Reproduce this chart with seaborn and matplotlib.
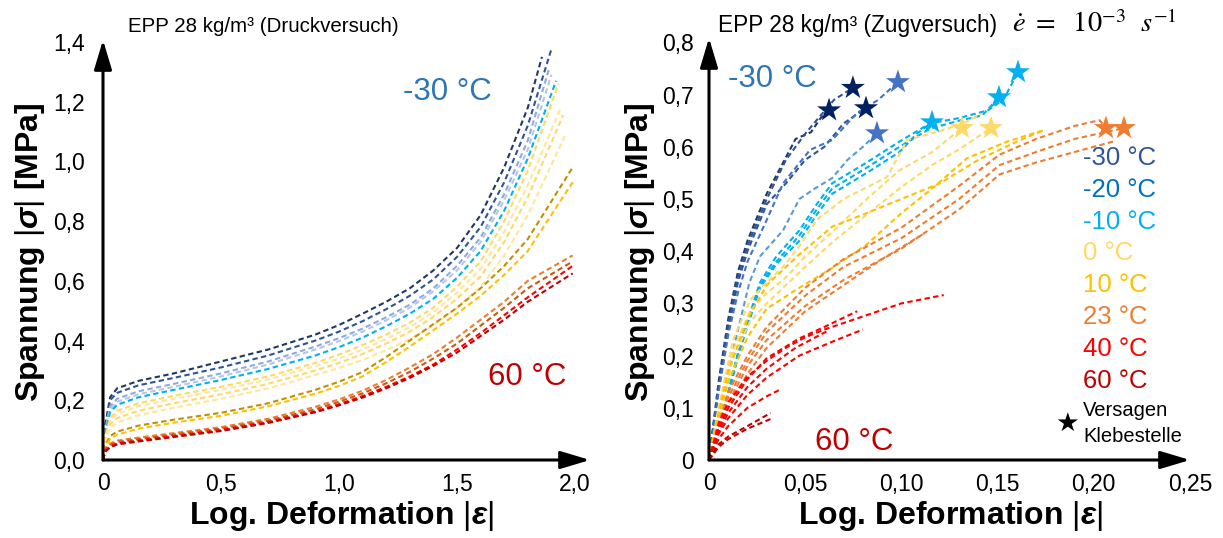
import matplotlib
matplotlib.use("Agg")
import matplotlib.pyplot as plt
import seaborn as sns

# ---------------- Druckversuch (left) ----------------
druck_eps = [0, 0.01, 0.03, 0.06, 0.15, 0.3, 0.5, 0.7, 0.9, 1.0, 1.1, 1.2, 1.3, 1.4, 1.5, 1.6, 1.7, 1.8]
druck_colors = ["#203864", "#2f5597", "#8faadc", "#b4c7e7", "#00b0f0",
                "#ffd966", "#ffe699", "#ffd966", "#ffe699",
                "#bf9000", "#ffc000", "#ed7d31", "#c55a11", "#ff0000", "#c00000"]
druck_sig = [
    [0, 0.12, 0.21, 0.24, 0.265, 0.29, 0.33, 0.37, 0.42, 0.452, 0.49, 0.53, 0.575, 0.635, 0.71, 0.82, 0.98, 1.18],
    [0, 0.11, 0.20, 0.225, 0.25, 0.275, 0.31, 0.35, 0.40, 0.43, 0.465, 0.505, 0.55, 0.605, 0.68, 0.78, 0.93, 1.12],
    [0, 0.10, 0.18, 0.205, 0.23, 0.255, 0.29, 0.33, 0.38, 0.408, 0.44, 0.478, 0.52, 0.575, 0.65, 0.745, 0.89, 1.07],
    [0, 0.095, 0.17, 0.195, 0.22, 0.245, 0.28, 0.32, 0.37, 0.398, 0.43, 0.468, 0.51, 0.565, 0.635, 0.73, 0.87, 1.04],
    [0, 0.09, 0.16, 0.185, 0.21, 0.235, 0.268, 0.305, 0.35, 0.378, 0.41, 0.448, 0.49, 0.54, 0.61, 0.70, 0.835, 1.01],
    [0, 0.08, 0.14, 0.165, 0.19, 0.215, 0.245, 0.28, 0.325, 0.353, 0.385, 0.42, 0.46, 0.51, 0.58, 0.665, 0.80, 0.97],
    [0, 0.075, 0.13, 0.155, 0.18, 0.205, 0.235, 0.27, 0.315, 0.34, 0.37, 0.405, 0.445, 0.495, 0.56, 0.64, 0.765, 0.92],
    [0, 0.07, 0.12, 0.14, 0.165, 0.19, 0.22, 0.255, 0.30, 0.325, 0.355, 0.39, 0.43, 0.48, 0.54, 0.615, 0.73, 0.88],
    [0, 0.065, 0.11, 0.125, 0.15, 0.175, 0.205, 0.24, 0.285, 0.308, 0.335, 0.368, 0.405, 0.45, 0.51, 0.58, 0.685, 0.82],
    [0, 0.05, 0.08, 0.095, 0.115, 0.135, 0.158, 0.19, 0.235, 0.262, 0.295, 0.345, 0.40, 0.455, 0.51, 0.575, 0.65, 0.74],
    [0, 0.045, 0.07, 0.085, 0.105, 0.125, 0.148, 0.18, 0.222, 0.248, 0.28, 0.328, 0.38, 0.435, 0.49, 0.55, 0.62, 0.70],
    [0, 0.04, 0.055, 0.065, 0.075, 0.09, 0.11, 0.138, 0.178, 0.203, 0.232, 0.268, 0.31, 0.355, 0.41, 0.47, 0.53, 0.60],
    [0, 0.035, 0.05, 0.06, 0.07, 0.085, 0.105, 0.132, 0.17, 0.195, 0.223, 0.257, 0.295, 0.34, 0.39, 0.45, 0.51, 0.575],
    [0, 0.03, 0.045, 0.055, 0.065, 0.08, 0.10, 0.127, 0.163, 0.187, 0.214, 0.245, 0.28, 0.32, 0.37, 0.425, 0.485, 0.545],
    [0, 0.028, 0.042, 0.052, 0.062, 0.077, 0.097, 0.124, 0.16, 0.183, 0.209, 0.24, 0.275, 0.315, 0.36, 0.415, 0.47, 0.53],
]
druck_end_eps = [1.86, 1.90, 1.89, 1.90, 1.92, 1.93, 1.94, 1.95, 1.96, 1.99, 1.99, 1.99, 1.99, 1.99, 1.99]
druck_end_sig = [1.35, 1.376, 1.31, 1.29, 1.27, 1.26, 1.18, 1.155, 1.09, 0.98, 0.93, 0.685, 0.665, 0.65, 0.625]

# ---------------- Zugversuch (right) ----------------
zug_colors = ["#203864", "#2f5597", "#2f5597",
              "#5b9bd5", "#4472c4",
              "#00b0f0", "#00b0f0", "#00b0f0",
              "#ffd966", "#ffd966", "#ffd966",
              "#ffc000", "#ffc000",
              "#ed7d31", "#ed7d31", "#ed7d31", "#ed7d31",
              "#ff0000", "#ff0000", "#ff0000", "#ff0000", "#ff0000",
              "#c00000", "#c00000"]
zug_eps = [
    [0, 0.005, 0.01, 0.015, 0.02, 0.03, 0.04, 0.045, 0.053, 0.058, 0.0624],
    [0, 0.005, 0.01, 0.015, 0.02, 0.03, 0.04, 0.05, 0.058, 0.065, 0.0748],
    [0, 0.005, 0.01, 0.015, 0.02, 0.03, 0.04, 0.05, 0.06, 0.07, 0.0816],
    [0, 0.005, 0.0125, 0.021, 0.0265, 0.0385, 0.047, 0.055, 0.064, 0.072, 0.08, 0.0873],
    [0, 0.005, 0.01, 0.015, 0.02, 0.03, 0.0385, 0.0525, 0.064, 0.077, 0.088, 0.0982],
    [0, 0.005, 0.0093, 0.016, 0.0265, 0.035, 0.047, 0.056, 0.064, 0.082, 0.099, 0.108, 0.1159],
    [0, 0.005, 0.0093, 0.016, 0.0265, 0.035, 0.047, 0.056, 0.064, 0.082, 0.099, 0.115, 0.13, 0.142, 0.1507],
    [0, 0.005, 0.0093, 0.016, 0.0265, 0.035, 0.047, 0.056, 0.064, 0.082, 0.099, 0.115, 0.13, 0.145, 0.153, 0.1606],
    [0, 0.005, 0.0125, 0.0213, 0.03, 0.0385, 0.047, 0.056, 0.07, 0.0925, 0.103, 0.12, 0.132, 0.142],
    [0, 0.005, 0.0125, 0.0213, 0.03, 0.04, 0.05, 0.065, 0.082, 0.099, 0.116, 0.1315],
    [0, 0.005, 0.0125, 0.0213, 0.03, 0.04, 0.05, 0.065, 0.082, 0.099, 0.116, 0.13, 0.1466],
    [0, 0.005, 0.01, 0.02, 0.03, 0.047, 0.064, 0.08, 0.10, 0.12, 0.14, 0.16, 0.174],
    [0, 0.005, 0.01, 0.02, 0.03, 0.047, 0.065, 0.082, 0.10, 0.116, 0.134, 0.155, 0.174],
    [0, 0.005, 0.01, 0.02, 0.03, 0.05, 0.07, 0.10, 0.13, 0.151, 0.17, 0.19, 0.203, 0.2063],
    [0, 0.005, 0.01, 0.02, 0.03, 0.05, 0.07, 0.10, 0.13, 0.151, 0.17, 0.19, 0.2157],
    [0, 0.005, 0.01, 0.02, 0.03, 0.05, 0.07, 0.10, 0.13, 0.151, 0.17, 0.19, 0.21],
    [0, 0.005, 0.01, 0.02, 0.03, 0.05, 0.07, 0.09, 0.111],
    [0, 0.005, 0.01, 0.02, 0.03, 0.04, 0.05, 0.06, 0.08, 0.10, 0.122],
    [0, 0.005, 0.01, 0.02, 0.03, 0.047, 0.06, 0.077],
    [0, 0.005, 0.01, 0.02, 0.03, 0.047, 0.065, 0.08],
    [0, 0.005, 0.01, 0.02, 0.03, 0.045, 0.061],
    [0, 0.005, 0.01, 0.02, 0.03, 0.037],
    [0, 0.005, 0.01, 0.02, 0.032],
    [0, 0.005, 0.01, 0.02, 0.033],
]
zug_sig = [
    [0, 0.15, 0.27, 0.36, 0.42, 0.51, 0.58, 0.615, 0.628, 0.655, 0.670],
    [0, 0.14, 0.26, 0.35, 0.41, 0.50, 0.575, 0.625, 0.66, 0.69, 0.713],
    [0, 0.14, 0.25, 0.34, 0.40, 0.49, 0.53, 0.575, 0.60, 0.645, 0.674],
    [0, 0.09, 0.21, 0.34, 0.39, 0.44, 0.50, 0.52, 0.54, 0.575, 0.60, 0.626],
    [0, 0.13, 0.24, 0.32, 0.38, 0.46, 0.53, 0.594, 0.613, 0.665, 0.69, 0.724],
    [0, 0.06, 0.115, 0.21, 0.33, 0.375, 0.42, 0.47, 0.51, 0.55, 0.59, 0.625, 0.647],
    [0, 0.06, 0.118, 0.215, 0.335, 0.38, 0.43, 0.48, 0.52, 0.56, 0.60, 0.635, 0.65, 0.66, 0.695],
    [0, 0.06, 0.12, 0.22, 0.34, 0.39, 0.44, 0.49, 0.53, 0.57, 0.61, 0.645, 0.655, 0.67, 0.69, 0.743],
    [0, 0.10, 0.23, 0.306, 0.34, 0.37, 0.41, 0.46, 0.50, 0.542, 0.613, 0.63, 0.645, 0.663],
    [0, 0.09, 0.21, 0.285, 0.32, 0.35, 0.39, 0.44, 0.50, 0.555, 0.59, 0.636],
    [0, 0.085, 0.195, 0.265, 0.30, 0.335, 0.37, 0.42, 0.47, 0.52, 0.565, 0.595, 0.636],
    [0, 0.09, 0.17, 0.27, 0.335, 0.394, 0.447, 0.47, 0.50, 0.53, 0.575, 0.61, 0.632],
    [0, 0.08, 0.15, 0.235, 0.29, 0.33, 0.37, 0.413, 0.473, 0.52, 0.578, 0.61, 0.632],
    [0, 0.07, 0.13, 0.20, 0.255, 0.33, 0.385, 0.445, 0.525, 0.585, 0.615, 0.64, 0.651, 0.636],
    [0, 0.065, 0.12, 0.19, 0.245, 0.315, 0.37, 0.425, 0.50, 0.565, 0.59, 0.615, 0.636],
    [0, 0.06, 0.11, 0.18, 0.23, 0.295, 0.345, 0.405, 0.48, 0.547, 0.57, 0.59, 0.61],
    [0, 0.055, 0.10, 0.165, 0.215, 0.285, 0.335, 0.385, 0.432],
    [0, 0.07, 0.11, 0.16, 0.19, 0.215, 0.235, 0.25, 0.275, 0.30, 0.316],
    [0, 0.06, 0.10, 0.155, 0.195, 0.233, 0.255, 0.285],
    [0, 0.05, 0.08, 0.125, 0.158, 0.20, 0.228, 0.25],
    [0, 0.055, 0.09, 0.14, 0.175, 0.215, 0.246],
    [0, 0.04, 0.065, 0.10, 0.122, 0.135],
    [0, 0.03, 0.045, 0.065, 0.09],
    [0, 0.025, 0.04, 0.06, 0.08],
]

star_eps = [0.0624, 0.0748, 0.0816, 0.0982, 0.0873, 0.1159, 0.1507, 0.1606, 0.1315, 0.1466, 0.2063, 0.2157]
star_sig = [0.670, 0.713, 0.674, 0.724, 0.626, 0.647, 0.695, 0.743, 0.636, 0.636, 0.636, 0.636]
star_colors = ["#002060", "#002060", "#002060", "#4472c4", "#4472c4",
               "#00b0f0", "#00b0f0", "#00b0f0", "#ffd966", "#ffd966", "#ed7d31", "#ed7d31"]

legend_labels = ["-30 °C", "-20 °C", "-10 °C", "0 °C", "10 °C", "23 °C", "40 °C", "60 °C"]
legend_colors = ["#2f5597", "#0070c0", "#00b0f0", "#ffd966", "#ffc000", "#ed7d31", "#ff0000", "#c00000"]

sns.set_theme(style="white")
plt.rcParams["font.family"] = ["Liberation Sans", "DejaVu Sans"]
plt.rcParams["text.color"] = "black"
plt.rcParams["xtick.color"] = "black"
plt.rcParams["ytick.color"] = "black"
plt.rcParams["mathtext.fontset"] = "custom"
plt.rcParams["mathtext.rm"] = "Liberation Sans"
plt.rcParams["mathtext.it"] = "Liberation Sans:italic"
plt.rcParams["mathtext.bf"] = "Liberation Sans:bold"
plt.rcParams["mathtext.bfit"] = "Liberation Sans:italic:bold"

W, H = 1223, 538
fig = plt.figure(figsize=(W / 100, H / 100), dpi=100)

dash = (0, (2.6, 1.6))

# left axes: origin at (103, 460) px, x arrow to 590, y arrow to 40
axL = fig.add_axes([103 / W, (H - 460) / H, (590 - 103) / W, (460 - 40) / H])
for c, s, ee, se in zip(druck_colors, druck_sig, druck_end_eps, druck_end_sig):
    sns.lineplot(x=druck_eps + [ee], y=s + [se], color=c, lw=1.5, linestyle=dash,
                 sort=False, estimator=None, ax=axL)
axL.set_xlim(0, (590 - 103) / 236)
axL.set_ylim(0, (460 - 40) / 298.6)
axL.set_xticks([0, 0.5, 1.0, 1.5, 2.0], ["0", "0,5", "1,0", "1,5", "2,0"])
axL.set_yticks([0, 0.2, 0.4, 0.6, 0.8, 1.0, 1.2, 1.4],
               ["0,0", "0,2", "0,4", "0,6", "0,8", "1,0", "1,2", "1,4"])
axL.tick_params(axis="y", length=0, pad=13, labelsize=16.5)
axL.tick_params(axis="x", length=0, pad=9, labelsize=16.5)
axL.text(1.27, 1.205, "-30 °C", color="#2e75b6", fontsize=22.5)
axL.text(1.63, 0.25, "60 °C", color="#c00000", fontsize=22.5)

# right axes: origin at (709, 460) px, x arrow to 1190, y arrow to 38
axR = fig.add_axes([709 / W, (H - 460) / H, (1190 - 709) / W, (460 - 38) / H])
for c, e, s in zip(zug_colors, zug_eps, zug_sig):
    sns.lineplot(x=e, y=s, color=c, lw=1.5, linestyle=dash,
                 sort=False, estimator=None, ax=axR)
sns.scatterplot(x=star_eps, y=star_sig, hue=star_colors, palette={c: c for c in star_colors},
                marker="*", s=330, linewidth=0, legend=False, ax=axR, zorder=5)
axR.set_xlim(0, 0.25)
axR.set_ylim(0, (460 - 38) / 522)
axR.set_xticks([0, 0.05, 0.10, 0.15, 0.20, 0.25], ["0", "0,05", "0,10", "0,15", "0,20", "0,25"])
axR.set_yticks([0, 0.1, 0.2, 0.3, 0.4, 0.5, 0.6, 0.7, 0.8],
               ["0", "0,1", "0,2", "0,3", "0,4", "0,5", "0,6", "0,7", "0,8"])
axR.tick_params(axis="y", length=0, pad=11, labelsize=16.5)
axR.tick_params(axis="x", length=0, pad=9, labelsize=16.5)
axR.text(0.01, 0.714, "-30 °C", color="#2e75b6", fontsize=22.5)
axR.text(0.055, 0.02, "60 °C", color="#c00000", fontsize=22.5)

for ax in (axL, axR):
    for sp in ax.spines.values():
        sp.set_visible(False)
    ax.grid(False)
    ax.set_xlabel("")
    ax.set_ylabel("")
    arrow = dict(arrowstyle="-|>,head_length=1.0,head_width=0.3", lw=2.2, color="black",
                 mutation_scale=18, shrinkA=0, shrinkB=0)
    ax.annotate("", xy=(1, 0), xytext=(0, 0), xycoords="axes fraction", arrowprops=arrow)
    ax.annotate("", xy=(0, 1), xytext=(0, 0), xycoords="axes fraction", arrowprops=arrow)

# titles
fig.text(128 / W, (H - 32) / H, "EPP 28 kg/m³ (Druckversuch)", fontsize=14.8, va="baseline")
fig.text(718 / W, (H - 32) / H, "EPP 28 kg/m³ (Zugversuch)", fontsize=16.3, va="baseline")
fig.text(1012 / W, (H - 32) / H, r"$\dot{e}\ =\ \ 10^{-3}\ \ s^{-1}$", fontsize=20.5,
         va="baseline", math_fontfamily="stix")

# axis labels
ylab = r"Spannung $|\mathbfit{\sigma}|$ [MPa]"
xlab = r"Log. Deformation $|\mathbfit{\varepsilon}|$"
fig.text(30 / W, (H - 252) / H, ylab, fontsize=23, fontweight="bold", rotation=90,
         ha="center", va="center")
fig.text(640 / W, (H - 252) / H, ylab, fontsize=23, fontweight="bold", rotation=90,
         ha="center", va="center")
fig.text(341 / W, (H - 516) / H, xlab, fontsize=23, fontweight="bold", ha="center", va="center")
fig.text(950 / W, (H - 516) / H, xlab, fontsize=23, fontweight="bold", ha="center", va="center")

# temperature legend on the right
for i, (lab, col) in enumerate(zip(legend_labels, legend_colors)):
    fig.text(1083 / W, (H - 158 - 31.8 * i) / H, lab, color=col, fontsize=18.5, va="center")
fig.text(1083 / W, (H - 410) / H, "Versagen", fontsize=14.5, va="center")
fig.text(1083 / W, (H - 436) / H, "Klebestelle", fontsize=14.5, va="center")
fig.text(1067 / W, (H - 424) / H, "★", fontsize=19, ha="center", va="center",
         family="DejaVu Sans")

fig.savefig("out.png", dpi=100)
